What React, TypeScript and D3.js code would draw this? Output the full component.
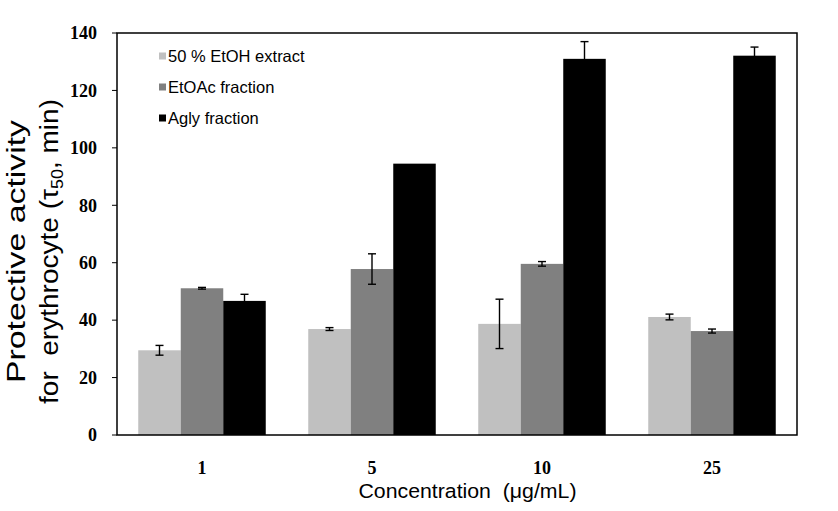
import React from "react";
import * as d3 from "d3";

const categories = ["1", "5", "10", "25"];
const seriesNames = ["50 % EtOH extract", "EtOAc fraction", "Agly fraction"];
const seriesColors = ["#c0c0c0", "#808080", "#000000"];
const ethanolValues = [29.5, 36.9, 38.7, 41.1];
const ethanolErrors = [1.7, 0.5, 8.6, 1.0];
const etoacValues = [51.1, 57.8, 59.6, 36.2];
const etoacErrors = [0.3, 5.3, 0.8, 0.7];
const aglyValues = [46.7, 94.5, 131.0, 132.1];
const aglyErrors = [2.3, 0, 6.0, 3.0];
const yTicks = [0, 20, 40, 60, 80, 100, 120, 140];

const W = 838;
const H = 511;
const margin = { left: 117, right: 41, top: 33, bottom: 76 };

export default function App() {
  const values = [ethanolValues, etoacValues, aglyValues];
  const errors = [ethanolErrors, etoacErrors, aglyErrors];
  const x0 = d3
    .scaleBand<string>()
    .domain(categories)
    .range([margin.left, W - margin.right])
    .paddingInner(0.25)
    .paddingOuter(0.125);
  const x1 = d3
    .scaleBand<string>()
    .domain(seriesNames)
    .range([0, x0.bandwidth()]);
  const y = d3
    .scaleLinear()
    .domain([0, 140])
    .range([H - margin.bottom, margin.top]);

  const serif = "'Liberation Serif', 'Times New Roman', serif";
  const sans = "'Liberation Sans', Arial, sans-serif";
  const plotW = W - margin.left - margin.right;
  const plotH = H - margin.top - margin.bottom;

  return (
    <svg
      width={W}
      height={H}
      style={{ position: "absolute", left: 0, top: 0, background: "#fff" }}
    >
      <rect x={0} y={0} width={W} height={H} fill="#fff" />
      {/* bars */}
      {seriesNames.map((s, si) =>
        categories.map((c, ci) => {
          const v = values[si][ci];
          const bx = (x0(c) as number) + (x1(s) as number);
          return (
            <rect
              key={s + c}
              x={bx}
              y={y(v)}
              width={x1.bandwidth()}
              height={y(0) - y(v)}
              fill={seriesColors[si]}
            />
          );
        })
      )}
      {/* error bars */}
      {seriesNames.map((s, si) =>
        categories.map((c, ci) => {
          const v = values[si][ci];
          const e = errors[si][ci];
          if (!e) return null;
          const cx = (x0(c) as number) + (x1(s) as number) + x1.bandwidth() / 2;
          const y1 = y(v + e);
          const y2 = y(v - e);
          return (
            <g key={"e" + s + c} stroke="#000" strokeWidth={1.4}>
              <line x1={cx} x2={cx} y1={y1} y2={y2} />
              <line x1={cx - 4} x2={cx + 4} y1={y1} y2={y1} />
              <line x1={cx - 4} x2={cx + 4} y1={y2} y2={y2} />
            </g>
          );
        })
      )}
      {/* frame */}
      <rect
        x={margin.left}
        y={margin.top}
        width={plotW}
        height={plotH}
        fill="none"
        stroke="#000"
        strokeWidth={1.5}
      />
      {/* y ticks */}
      {yTicks.map((t) => (
        <g key={"yt" + t}>
          <line
            x1={margin.left - 5}
            x2={margin.left}
            y1={y(t)}
            y2={y(t)}
            stroke="#000"
            strokeWidth={1}
          />
          <text
            x={97}
            y={y(t)}
            dy="0.35em"
            textAnchor="end"
            fontFamily={serif}
            fontWeight="bold"
            fontSize={18}
            fill="#000"
          >
            {t}
          </text>
        </g>
      ))}
      {/* x labels */}
      {categories.map((c) => (
        <text
          key={"xl" + c}
          x={(x0(c) as number) + x0.bandwidth() / 2}
          y={474}
          textAnchor="middle"
          fontFamily={serif}
          fontWeight="bold"
          fontSize={18}
          fill="#000"
        >
          {c}
        </text>
      ))}
      {/* x title */}
      <text
        x={467.5}
        y={498}
        textAnchor="middle"
        fontFamily={sans}
        fontSize={20.5}
        textLength={218}
        lengthAdjust="spacingAndGlyphs"
        fill="#000"
        style={{ whiteSpace: "pre" }}
      >
        {"Concentration  (μg/mL)"}
      </text>
      {/* y title */}
      <g transform="translate(25,251.5) rotate(-90)">
        <text
          x={0}
          y={0}
          textAnchor="middle"
          fontFamily={sans}
          fontSize={25}
          textLength={263}
          lengthAdjust="spacingAndGlyphs"
          fill="#000"
        >
          Protective activity
        </text>
      </g>
      <g transform="translate(58,251.5) rotate(-90)">
        <text
          x={0}
          y={0}
          textAnchor="middle"
          fontFamily={sans}
          fontSize={25}
          textLength={305}
          lengthAdjust="spacingAndGlyphs"
          fill="#000"
          style={{ whiteSpace: "pre" }}
        >
          {"for  erythrocyte (τ"}
          <tspan fontSize={16} dy={5}>
            50
          </tspan>
          <tspan dy={-5}>, min)</tspan>
        </text>
      </g>
      {/* legend */}
      {seriesNames.map((s, i) => (
        <g key={"lg" + s} transform={`translate(159, ${56 + i * 31})`}>
          <rect x={0} y={-3.5} width={7} height={7} fill={seriesColors[i]} />
          <text
            x={9}
            y={0}
            dy="0.36em"
            fontFamily={sans}
            fontSize={16.5}
            fill="#000"
          >
            {s}
          </text>
        </g>
      ))}
    </svg>
  );
}
